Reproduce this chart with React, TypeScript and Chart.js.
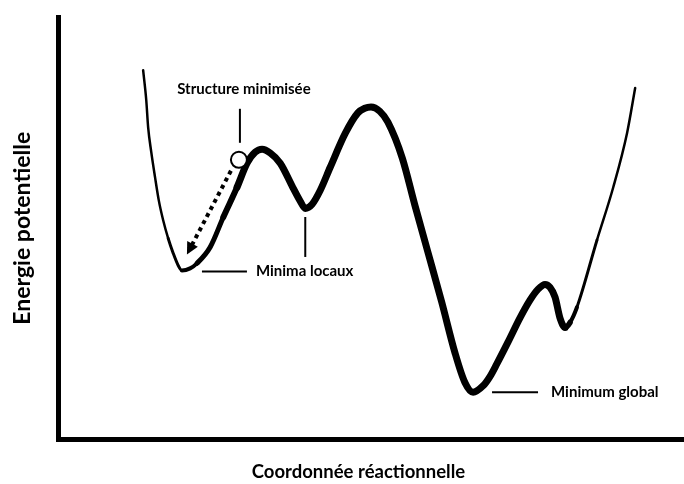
import { useEffect, useRef } from "react";
import { Chart, registerables } from "chart.js";

Chart.register(...registerables);

// Reaction coordinate (x) and potential energy (y) (0–100 units)
const reactionCoord = [
  13.6, 14.1, 14.4, 14.9, 15.5, 16.1, 16.8, 17.6, 18.4, 19.2, 19.8, 21.1, 22.2, 24.3, 26.4,
  28.6, 30.2, 31.5, 32.6, 33.9, 35.5, 37.5, 38.7, 39.5, 40.6, 41.9, 43.5, 45.9, 47.9, 49.0,
  50.0, 51.4, 52.7, 55.0, 57.0, 59.1, 61.3, 63.4, 65.0, 66.3, 67.9, 69.0, 70.1, 71.9, 73.8,
  75.4, 76.7, 77.8, 78.6, 79.4, 80.2, 81.0, 81.8, 82.9, 86.1, 88.7, 90.9, 92.2,
];
const potentialEnergy = [
  87.4, 80.3, 73.9, 68.0, 62.1, 56.6, 51.9, 47.6, 44.1, 41.2, 40.0, 40.5, 41.7, 45.5, 52.6,
  59.7, 65.4, 68.0, 68.7, 67.8, 65.4, 59.7, 56.4, 54.7, 55.7, 59.0, 64.5, 72.5, 77.3, 78.4,
  78.7, 77.7, 75.1, 66.6, 55.5, 44.3, 32.5, 20.6, 13.5, 11.2, 12.7, 14.9, 17.9, 23.1, 28.8,
  33.0, 35.6, 36.7, 36.0, 33.7, 28.7, 26.5, 27.7, 31.3, 47.2, 59.7, 72.5, 83.2,
];

const xTitle = "Coordonnée réactionnelle";
const yTitle = "Energie potentielle";
const labelStructure = "Structure minimisée";
const labelLocal = "Minima locaux";
const labelGlobal = "Minimum global";

// annotation anchors (data units)
const minimizedStructure = { x: 28.9, y: 66.2 };
const localMinima = [
  { x: 19.8, y: 40.0 },
  { x: 39.5, y: 54.8 },
];
const globalMinimum = { x: 66.3, y: 11.4 };
const xTitleCenter = 48; // x-axis title centre, in reaction-coordinate units

function widthAt(x: number): number {
  if (x < 18) return 2.5;
  if (x < 20) return 3;
  if (x < 23) return 4;
  if (x < 26) return 5;
  if (x < 29) return 6;
  if (x < 81) return 7;
  if (x < 82) return 5.5;
  if (x < 83) return 4;
  if (x < 86) return 3;
  return 2.5;
}

const annotationPlugin = {
  id: "annotations",
  afterDatasetsDraw(chart: any) {
    const { ctx, scales } = chart;
    const xs = scales.x;
    const ys = scales.y;
    const px = (p: { x: number; y: number }) => [xs.getPixelForValue(p.x), ys.getPixelForValue(p.y)];
    ctx.save();
    ctx.strokeStyle = "#000";
    ctx.fillStyle = "#000";
    ctx.font = "bold 15px Lato";
    ctx.textBaseline = "middle";

    const [sx, sy] = px(minimizedStructure);
    const [ax, ay] = px(localMinima[0]);
    const [bx, by] = px(localMinima[1]);
    const [gx, gy] = px(globalMinimum);

    // dotted arrow
    const start = [sx - 8, sy + 11];
    const tip = [ax + 5, ay - 16];
    const dx = tip[0] - start[0];
    const dy = tip[1] - start[1];
    const len = Math.hypot(dx, dy);
    const ux = dx / len;
    const uy = dy / len;
    const headLen = 12;
    ctx.setLineDash([4, 4]);
    ctx.lineWidth = 4;
    ctx.lineCap = "butt";
    ctx.beginPath();
    ctx.moveTo(start[0], start[1]);
    ctx.lineTo(tip[0] - ux * headLen * 0.8, tip[1] - uy * headLen * 0.8);
    ctx.stroke();
    ctx.setLineDash([]);
    ctx.beginPath();
    ctx.moveTo(tip[0], tip[1]);
    ctx.lineTo(tip[0] - ux * headLen - uy * 6, tip[1] - uy * headLen + ux * 6);
    ctx.lineTo(tip[0] - ux * headLen + uy * 6, tip[1] - uy * headLen - ux * 6);
    ctx.closePath();
    ctx.fill();

    // structure circle
    ctx.lineWidth = 2;
    ctx.beginPath();
    ctx.arc(sx, sy, 8, 0, Math.PI * 2);
    ctx.fillStyle = "#fff";
    ctx.fill();
    ctx.stroke();
    ctx.fillStyle = "#000";

    // structure label
    ctx.lineWidth = 2;
    ctx.beginPath();
    ctx.moveTo(sx + 1, sy - 51);
    ctx.lineTo(sx + 1, sy - 17);
    ctx.stroke();
    ctx.textAlign = "center";
    ctx.fillText(labelStructure, sx + 5, sy - 71);

    // local minima
    ctx.beginPath();
    ctx.moveTo(ax + 20, ay + 1);
    ctx.lineTo(ax + 65, ay + 1);
    ctx.stroke();
    ctx.beginPath();
    ctx.moveTo(bx, by + 9);
    ctx.lineTo(bx, by + 49);
    ctx.stroke();
    ctx.textAlign = "left";
    ctx.fillText(labelLocal, ax + 74, ay + 1);

    // global minimum
    ctx.beginPath();
    ctx.moveTo(gx + 19, gy + 1);
    ctx.lineTo(gx + 65, gy + 1);
    ctx.stroke();
    ctx.fillText(labelGlobal, gx + 78, gy + 1);

    // x-axis title
    ctx.font = "bold 18.5px Lato";
    ctx.textAlign = "center";
    ctx.fillText(xTitle, xs.getPixelForValue(xTitleCenter), (xs.bottom + xs.top) / 2 + 10.5);

    ctx.restore();
  },
};

export default function App() {
  const canvasRef = useRef<HTMLCanvasElement | null>(null);

  useEffect(() => {
    const canvas = canvasRef.current;
    if (!canvas) return;
    const data = reactionCoord.map((x, i) => ({ x, y: potentialEnergy[i] }));
    const chart = new Chart(canvas, {
      type: "line",
      data: {
        datasets: [
          {
            data,
            borderColor: "#000",
            borderWidth: 3,
            pointRadius: 0,
            fill: false,
            cubicInterpolationMode: "monotone",
            borderCapStyle: "round",
            borderJoinStyle: "round",
            segment: {
              borderWidth: (ctx: any) => widthAt((ctx.p0.parsed.x + ctx.p1.parsed.x) / 2),
            },
          } as any,
        ],
      },
      options: {
        animation: false,
        responsive: true,
        maintainAspectRatio: false,
        layout: { padding: { top: 17, right: 0, left: 0, bottom: 0 } },
        plugins: { legend: { display: false }, tooltip: { enabled: false } },
        scales: {
          x: {
            type: "linear",
            min: 0,
            max: 100,
            grid: { display: false, drawTicks: false },
            ticks: { display: false },
            border: { display: true, color: "#000", width: 5 },
            title: { display: false },
            afterFit: (scale: any) => {
              scale.height = 44.5;
            },
          },
          y: {
            type: "linear",
            min: 0,
            max: 100,
            grid: { display: false, drawTicks: false },
            ticks: { display: false },
            border: { display: true, color: "#000", width: 5 },
            title: {
              display: true,
              text: yTitle,
              color: "#000",
              font: { family: "Lato", size: 23, weight: "bold" },
              padding: { top: 9.2, bottom: 21.2 },
            },
          },
        },
      },
      plugins: [annotationPlugin],
    });
    return () => chart.destroy();
  }, []);

  return (
    <div style={{ position: "fixed", left: 0, top: 0, width: 684, height: 484, background: "#fff" }}>
      <canvas ref={canvasRef} />
    </div>
  );
}
